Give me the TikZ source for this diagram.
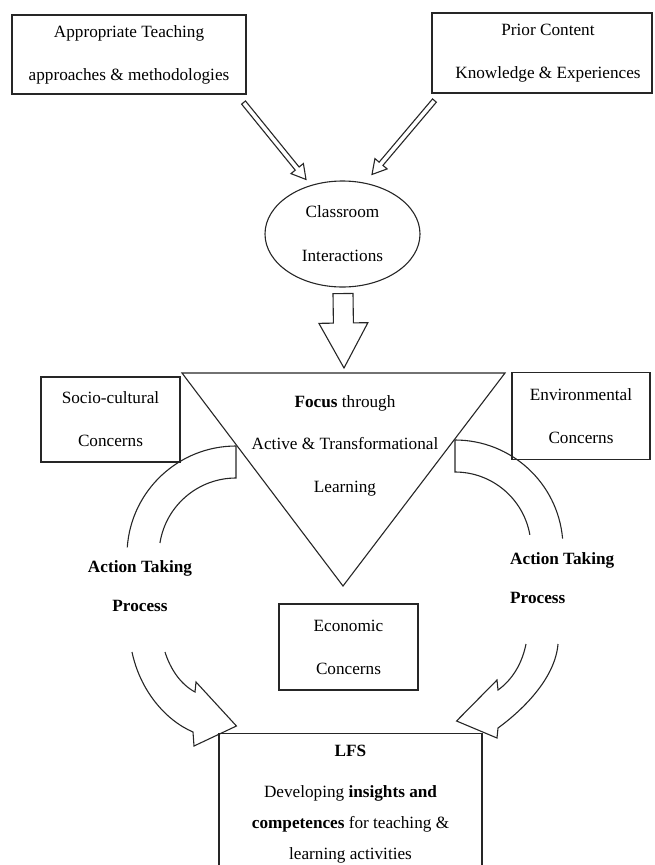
\documentclass[tikz,border=0pt]{standalone}
\usepackage{fontspec}
\setmainfont{Liberation Serif}
\usetikzlibrary{calc,shapes.geometric}
\newcommand{\hollowarrow}[5]{%
  \coordinate (habase) at ($(#2)!#5!(#1)$);
  \draw[shape line] ($(#1)!#3!90:(#2)$) -- ($(habase)!#3!-90:(#1)$) -- ($(habase)!#4!-90:(#1)$) -- (#2)
     -- ($(habase)!#4!90:(#1)$) -- ($(habase)!#3!90:(#1)$) -- ($(#1)!#3!-90:(#2)$) -- cycle;}
\begin{document}
\begin{tikzpicture}[x=1pt,y=-1pt,
  shape line/.style={draw=black!85, line width=1.1pt, line join=miter},
  box/.style={shape line, rectangle, inner sep=0pt, align=center, font=\fontsize{17.2}{43}\selectfont},
  txt/.style={inner sep=0pt, align=center, font=\fontsize{17.2}{43}\selectfont},
  actlabel/.style={inner sep=0pt, font=\fontsize{17.2}{39}\selectfont\bfseries}]
\useasboundingbox (0,0) rectangle (654,865);
\clip (0,0) rectangle (654,865);

% top boxes
\node[box, minimum width=234, minimum height=79] (teach) at (129,54.5) {Appropriate Teaching\\approaches \& methodologies};
\node[box, minimum width=220, minimum height=80] (prior) at (542,53) {\hspace*{12pt}Prior Content\\\hspace*{12pt}Knowledge \& Experiences};

% ellipse
\node[shape line, ellipse, minimum width=155, minimum height=106, inner sep=0pt, align=center, font=\fontsize{17.2}{44}\selectfont] (class) at (342.5,234) {Classroom\\Interactions};

% hollow arrows into ellipse
\coordinate (a1s) at ($(teach.south east)+(-3,8)$);
\coordinate (a1e) at ($(class.north)+(-36.5,-1)$);
\coordinate (a2s) at ($(prior.south west)+(3,7)$);
\coordinate (a2e) at ($(class.north)+(29.5,-6)$);
\hollowarrow{a1s}{a1e}{2.5pt}{8pt}{14pt}
\hollowarrow{a2s}{a2e}{2.5pt}{8pt}{14pt}

% triangle
\coordinate (tl) at (182,373);
\coordinate (tr) at (505,373);
\coordinate (tb) at (343,586);
\draw[shape line] (tl) -- (tr) -- (tb) -- cycle;
\node[txt, font=\fontsize{17.2}{42.5}\selectfont] (focus) at (345,445.5) {\textbf{Focus} through\\Active \& Transformational\\Learning};

% big arrow from ellipse to triangle
\coordinate (bs) at ($(class.south)+(0.5,6)$);
\coordinate (be) at ($(tl)!0.5!(tr)+(0.5,-5)$);
\hollowarrow{bs}{be}{10pt}{24.5pt}{45pt}

% concern boxes
\node[box, minimum width=139, minimum height=85] (socio) at (110.5,419.5) {Socio-cultural\\Concerns};
\node[box, minimum width=138, minimum height=87] (env) at (581,416) {Environmental\\Concerns};
\node[box, minimum width=139, minimum height=86] (econ) at (348.5,647) {Economic\\Concerns};

% action labels
\node[actlabel, align=center] (actL) at (140,586) {Action Taking\\Process};
\node[actlabel, align=left, anchor=west] (actR) at (510,578) {Action Taking\\Process};

% LFS box
\node[box, anchor=north, minimum width=263, minimum height=141, font=\fontsize{17.2}{31}\selectfont] (lfs) at (350.5,733)
  {\textbf{LFS}\\[10pt]Developing \textbf{insights and}\\\textbf{competences} for teaching \&\\learning activities};

% upper curved bands (from triangle edges)
\coordinate (lu1) at (236,446);
\coordinate (lu2) at (236,478);
\draw[shape line] (lu1) arc[start angle=270, end angle=184, radius=109];
\draw[shape line] (lu1) -- (lu2) arc[start angle=270, end angle=189, radius=77];
\coordinate (ru1) at (455,440);
\coordinate (ru2) at (455,472);
\draw[shape line] (ru1) arc[start angle=270, end angle=355, radius=108];
\draw[shape line] (ru1) -- (ru2) arc[start angle=270, end angle=350, radius=76];

% lower curved arrows into LFS
\draw[shape line] (132,652) .. controls (140,690) and (165,720) .. (193,732)
  -- (194,746) -- ($(lfs.north west)+(18,-7)$) -- (196,682) -- (195,692)
  .. controls (180,684) and (170,668) .. (165,652);
\draw[shape line] (558,644) .. controls (555,680) and (520,712) .. (498,728)
  -- (497,738) -- ($(lfs.north east)+(-26,-12)$) -- (497,680) -- (498,690)
  .. controls (512,680) and (522,664) .. (526,644);
\end{tikzpicture}
\end{document}
